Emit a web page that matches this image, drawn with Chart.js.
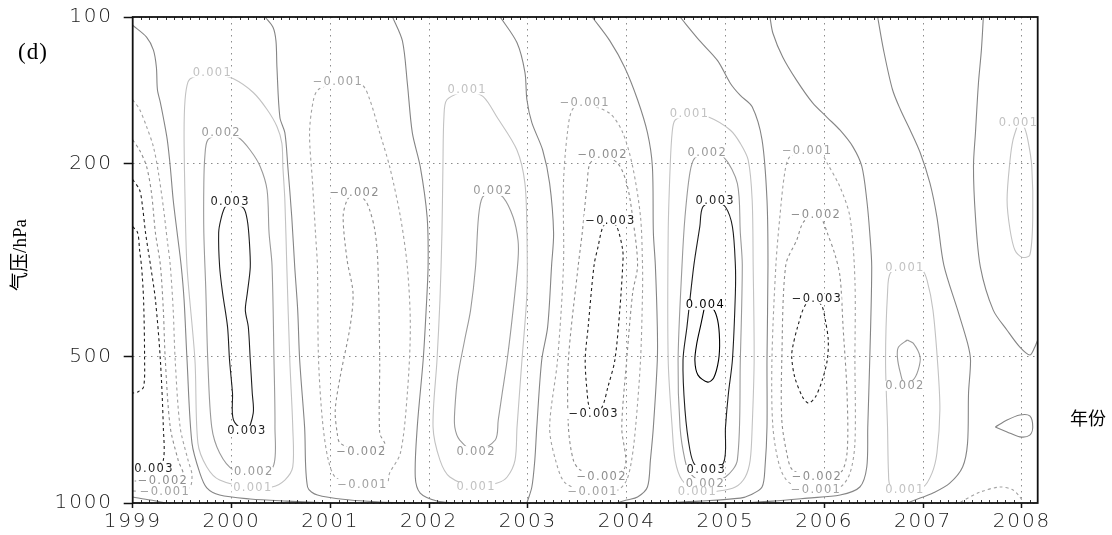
<!DOCTYPE html>
<html>
<head>
<meta charset="utf-8">
<script src="https://cdn.jsdelivr.net/npm/chart.js@4.4.1/dist/chart.umd.min.js"></script>
<style>
  html, body { margin: 0; padding: 0; background: #fff; }
  #wrap { position: relative; width: 1112px; height: 535px; }
  canvas { display: block; }
</style>
</head>
<body>
<div id="wrap"><canvas id="c" width="1112" height="535"></canvas></div>
<script>
// Axis ticks
const yearTicks = [1999, 2000, 2001, 2002, 2003, 2004, 2005, 2006, 2007, 2008];
const pressureTicks = [100, 200, 500, 1000];

// Contour paths, each point = [year, pressure hPa]
// zero line, 1999/2000
const c0_a = [[1999.00,104],[1999.14,110],[1999.21,117],[1999.24,127],[1999.25,141],[1999.28,150],[1999.31,161],[1999.35,179],[1999.38,203],[1999.41,238],[1999.45,278],[1999.49,324],[1999.52,382],[1999.55,508],[1999.60,753],[1999.68,868],[1999.75,931],[1999.88,963],[2000.19,981],[2000.56,991],[2001.00,1000]];
const c0_a2 = [[1999.00,972],[1999.18,986],[1999.33,1000]];
// negative cell, 1999
const cm1_a = [[1999.00,148],[1999.07,155],[1999.14,168],[1999.21,185],[1999.26,209],[1999.31,246],[1999.35,288],[1999.38,324],[1999.41,401],[1999.43,508],[1999.48,698],[1999.56,816],[1999.60,876],[1999.57,931],[1999.28,945],[1999.00,945]];
const cm2_a = [[1999.00,179],[1999.07,188],[1999.14,203],[1999.19,230],[1999.23,278],[1999.28,324],[1999.31,401],[1999.33,508],[1999.38,698],[1999.46,816],[1999.51,884],[1999.28,901],[1999.00,901]];
const cm3_a = [[1999.00,216],[1999.07,227],[1999.10,246],[1999.13,278],[1999.18,324],[1999.23,382],[1999.28,508],[1999.31,698],[1999.31,816],[1999.23,835],[1999.00,835]];
const cm4_a = [[1999.00,270],[1999.05,278],[1999.07,302],[1999.09,327],[1999.11,382],[1999.12,501],[1999.11,577],[1999.05,591],[1999.00,594]];
// positive cell, 2000
const cp1_a = [[1999.80,130],[1999.61,133],[1999.56,136],[1999.53,148],[1999.52,173],[1999.53,238],[1999.55,327],[1999.63,508],[1999.66,753],[1999.75,843],[1999.88,897],[2000.21,931],[2000.41,927],[2000.54,897],[2000.62,843],[2000.62,698],[2000.59,508],[2000.56,327],[2000.54,238],[2000.52,203],[2000.51,182],[2000.46,168],[2000.36,155],[2000.22,143],[2000.02,134],[1999.80,130]];
const cp2_a = [[1999.89,173],[1999.76,179],[1999.73,194],[1999.72,220],[1999.72,278],[1999.74,364],[1999.76,508],[1999.80,698],[1999.88,789],[2000.02,855],[2000.22,863],[2000.42,843],[2000.44,698],[2000.43,508],[2000.41,324],[2000.38,278],[2000.36,227],[2000.29,203],[2000.19,188],[2000.07,177],[1999.89,173]];
const cp3_a = [[1999.98,240],[1999.93,247],[1999.89,262],[1999.87,278],[1999.88,327],[1999.91,370],[1999.96,434],[1999.98,508],[2000.01,594],[2000.02,675],[2000.15,711],[2000.22,653],[2000.21,594],[2000.19,508],[2000.17,434],[2000.14,401],[2000.16,370],[2000.19,327],[2000.18,288],[2000.16,262],[2000.12,247],[1999.98,240]];
// zero line, 2000/2001
const c0_b = [[2000.34,100],[2000.42,105],[2000.45,112],[2000.46,127],[2000.49,161],[2000.54,173],[2000.57,203],[2000.61,258],[2000.64,327],[2000.67,401],[2000.69,508],[2000.74,698],[2000.77,927],[2000.87,963],[2001.20,986],[2001.50,995],[2001.81,1000]];
// negative cell, 2001
const cm1_b = [[2001.07,136],[2000.88,141],[2000.83,148],[2000.79,173],[2000.82,219],[2000.85,278],[2000.87,327],[2000.88,501],[2000.92,675],[2000.98,816],[2001.06,888],[2001.32,914],[2001.57,914],[2001.60,868],[2001.71,789],[2001.78,594],[2001.81,434],[2001.78,327],[2001.71,258],[2001.60,203],[2001.50,173],[2001.40,148],[2001.32,138],[2001.07,136]];
const cm2_b = [[2001.24,230],[2001.17,238],[2001.13,258],[2001.17,316],[2001.23,370],[2001.20,434],[2001.10,550],[2001.05,644],[2001.07,718],[2001.10,753],[2001.31,785],[2001.55,760],[2001.50,718],[2001.50,508],[2001.48,316],[2001.45,274],[2001.40,250],[2001.35,238],[2001.24,230]];
// zero line, 2001/2002
const c0_c = [[2001.63,100],[2001.73,112],[2001.78,137],[2001.83,173],[2001.91,203],[2001.98,258],[2001.99,324],[2001.97,401],[2001.94,508],[2001.88,698],[2001.86,884],[2001.91,954],[2002.08,991],[2002.26,1000]];
// positive cell, 2002
const cp1_c = [[2002.38,141],[2002.18,148],[2002.15,161],[2002.14,203],[2002.13,278],[2002.11,382],[2002.08,508],[2002.04,698],[2002.11,816],[2002.21,884],[2002.47,927],[2002.69,910],[2002.79,884],[2002.87,816],[2002.89,698],[2002.94,508],[2002.99,370],[2002.99,278],[2002.97,220],[2002.89,188],[2002.69,161],[2002.55,146],[2002.38,141]];
const cp2_c = [[2002.64,228],[2002.54,235],[2002.50,258],[2002.47,327],[2002.42,401],[2002.36,462],[2002.29,550],[2002.26,644],[2002.26,698],[2002.31,742],[2002.47,782],[2002.67,742],[2002.70,675],[2002.74,594],[2002.79,508],[2002.85,401],[2002.90,316],[2002.90,288],[2002.85,258],[2002.75,235],[2002.64,228]];
// zero line, 2002/2003
const c0_d = [[2002.72,100],[2002.89,113],[2002.97,130],[2002.99,148],[2003.04,165],[2003.15,188],[2003.22,220],[2003.26,278],[2003.24,324],[2003.20,434],[2003.14,508],[2003.09,698],[2003.07,816],[2003.04,927],[2002.99,1000]];
// negative cell, 2003/2004
const cm1_d = [[2003.57,150],[2003.45,155],[2003.40,173],[2003.36,220],[2003.36,324],[2003.30,508],[2003.22,698],[2003.28,816],[2003.38,910],[2003.65,949],[2003.91,940],[2004.00,897],[2004.05,816],[2004.09,698],[2004.14,508],[2004.16,370],[2004.16,324],[2004.14,258],[2004.06,203],[2003.96,173],[2003.83,158],[2003.57,150]];
const cm2_d = [[2003.75,192],[2003.63,200],[2003.60,220],[2003.55,278],[2003.51,324],[2003.41,508],[2003.41,698],[2003.46,816],[2003.53,855],[2003.74,880],[2003.98,847],[2003.95,698],[2004.00,508],[2004.06,370],[2004.11,324],[2004.06,258],[2004.00,220],[2003.91,200],[2003.75,192]];
const cm3_d = [[2003.83,262],[2003.76,270],[2003.71,297],[2003.67,324],[2003.61,434],[2003.58,508],[2003.60,594],[2003.62,635],[2003.66,656],[2003.75,635],[2003.81,577],[2003.88,508],[2003.93,401],[2003.96,324],[2003.96,302],[2003.90,270],[2003.83,262]];
// zero line, 2004/2005
const c0_e = [[2003.65,100],[2003.83,112],[2003.98,127],[2004.11,148],[2004.21,173],[2004.26,203],[2004.27,278],[2004.29,324],[2004.31,434],[2004.31,508],[2004.27,698],[2004.24,816],[2004.21,927],[2004.11,972],[2004.00,986],[2003.90,1000]];
// positive cell, 2005
const cp1_e = [[2004.63,158],[2004.49,163],[2004.46,173],[2004.44,203],[2004.42,278],[2004.42,508],[2004.46,698],[2004.49,816],[2004.56,897],[2004.71,949],[2004.93,945],[2005.10,927],[2005.20,884],[2005.25,816],[2005.27,698],[2005.29,508],[2005.28,324],[2005.27,238],[2005.23,197],[2005.15,182],[2005.05,171],[2004.84,161],[2004.63,158]];
const cp2_e = [[2004.81,190],[2004.69,195],[2004.64,209],[2004.59,258],[2004.56,324],[2004.52,508],[2004.54,698],[2004.59,816],[2004.64,868],[2004.79,910],[2005.00,884],[2005.12,816],[2005.15,508],[2005.17,324],[2005.15,278],[2005.12,220],[2004.98,194],[2004.81,190]];
const cp3_e = [[2004.89,238],[2004.77,246],[2004.74,270],[2004.68,324],[2004.61,434],[2004.57,508],[2004.59,644],[2004.64,778],[2004.69,835],[2004.80,855],[2004.98,827],[2005.00,698],[2005.03,594],[2005.07,508],[2005.10,370],[2005.10,324],[2005.07,270],[2005.00,246],[2004.89,238]];
const cp4_e = [[2004.79,393],[2004.75,430],[2004.71,469],[2004.69,508],[2004.72,545],[2004.82,564],[2004.88,553],[2004.93,508],[2004.94,462],[2004.92,420],[2004.87,397],[2004.79,393]];
// zero line, 2005/2006
const c0_f = [[2004.54,100],[2004.74,112],[2004.92,123],[2005.05,137],[2005.15,145],[2005.27,153],[2005.37,179],[2005.42,238],[2005.43,324],[2005.42,508],[2005.42,698],[2005.40,843],[2005.37,927],[2005.25,963],[2005.15,977],[2004.74,991],[2004.34,1000]];
// negative cell, 2006
const cm1_f = [[2005.82,188],[2005.65,194],[2005.60,209],[2005.55,258],[2005.51,324],[2005.47,508],[2005.48,698],[2005.55,843],[2005.65,910],[2005.91,936],[2006.16,927],[2006.26,868],[2006.31,753],[2006.31,508],[2006.31,348],[2006.26,258],[2006.16,224],[2006.03,200],[2005.96,190],[2005.82,188]];
const cm2_f = [[2005.91,255],[2005.79,264],[2005.72,288],[2005.61,324],[2005.57,508],[2005.57,675],[2005.62,789],[2005.68,855],[2005.92,884],[2006.16,868],[2006.23,789],[2006.23,594],[2006.19,434],[2006.16,343],[2006.11,309],[2006.03,278],[2005.98,262],[2005.91,255]];
const cm3_f = [[2005.92,380],[2005.81,391],[2005.73,434],[2005.68,478],[2005.67,501],[2005.70,550],[2005.78,605],[2005.84,623],[2005.91,605],[2005.98,558],[2006.03,508],[2006.04,462],[2006.01,420],[2005.98,395],[2005.92,380]];
// zero line, 2006/2007
const c0_g = [[2005.45,100],[2005.48,108],[2005.58,121],[2005.72,135],[2005.88,150],[2006.03,161],[2006.16,171],[2006.29,185],[2006.38,203],[2006.43,238],[2006.46,278],[2006.48,327],[2006.46,508],[2006.44,698],[2006.43,843],[2006.36,927],[2006.16,963],[2005.83,977],[2005.48,991],[2005.15,1000]];
// positive cell, 2007
const cp1_g = [[2006.81,327],[2006.67,336],[2006.64,370],[2006.62,508],[2006.64,698],[2006.65,868],[2006.67,923],[2006.81,936],[2007.00,927],[2007.09,868],[2007.14,789],[2007.17,644],[2007.15,525],[2007.10,401],[2007.04,348],[2006.99,332],[2006.81,327]];
const cp2_g = [[2006.84,462],[2006.75,478],[2006.74,501],[2006.77,540],[2006.81,568],[2006.90,558],[2006.95,533],[2006.97,501],[2006.90,469],[2006.84,462]];
// zero lines, 2007/2008
const c0_h = [[2006.54,100],[2006.60,117],[2006.69,141],[2006.77,155],[2006.87,171],[2006.97,190],[2007.07,220],[2007.14,258],[2007.21,324],[2007.35,401],[2007.45,469],[2007.48,508],[2007.46,594],[2007.45,753],[2007.40,843],[2007.27,910],[2007.10,954],[2006.97,977],[2006.84,1000]];
const c0_i = [[2007.61,100],[2007.59,117],[2007.56,137],[2007.53,173],[2007.51,203],[2007.53,258],[2007.58,327],[2007.71,401],[2007.85,441],[2007.98,478],[2008.08,496],[2008.13,478],[2008.16,462]];
const cp1_i = [[2007.96,166],[2007.91,179],[2007.88,197],[2007.85,238],[2007.88,274],[2007.93,302],[2008.00,312],[2008.08,309],[2008.11,258],[2008.10,203],[2008.06,179],[2008.02,168],[2007.96,166]];
const c0_j = [[2007.73,698],[2007.85,675],[2007.98,659],[2008.08,662],[2008.11,698],[2008.08,725],[2007.98,731],[2007.85,714],[2007.73,698]];
const cm1_j = [[2007.38,995],[2007.58,949],[2007.78,927],[2007.91,940],[2007.98,972],[2008.01,995]];

const contourPaths = [c0_a, c0_a2, cm1_a, cm2_a, cm3_a, cm4_a, cp1_a, cp2_a, cp3_a, c0_b, cm1_b, cm2_b, c0_c, cp1_c, cp2_c, c0_d, cm1_d, cm2_d, cm3_d, c0_e, cp1_e, cp2_e, cp3_e, cp4_e, c0_f, cm1_f, cm2_f, cm3_f, c0_g, cp1_g, cp2_g, c0_h, c0_i, cp1_i, c0_j, cm1_j];
const contourLevels = [0, 0, -0.001, -0.002, -0.003, -0.004, 0.001, 0.002, 0.003, 0, -0.001, -0.002, 0, 0.001, 0.002, 0, -0.001, -0.002, -0.003, 0, 0.001, 0.002, 0.003, 0.004, 0, -0.001, -0.002, -0.003, 0, 0.001, 0.002, 0, 0, 0.001, 0, -0.001];

// Contour labels
const labelText = ['0.001','0.002','0.003','0.003','0.002','0.001','0.003','\u22120.002','\u22120.001',
  '\u22120.001','\u22120.002','\u22120.002','\u22120.001',
  '0.001','0.002','0.002','0.001',
  '\u22120.001','\u22120.002','\u22120.003','\u22120.003','\u22120.002','\u22120.001',
  '0.001','0.002','0.003','0.004','0.003','0.002','0.001',
  '\u22120.001','\u22120.002','\u22120.003','\u22120.002','\u22120.001',
  '0.001','0.002','0.001','0.001'];
const labelYear = [1999.80,1999.89,1999.98,2000.15,2000.22,2000.21,1999.21,1999.30,1999.32,
  2001.07,2001.24,2001.31,2001.32,
  2002.38,2002.64,2002.47,2002.47,
  2003.57,2003.75,2003.83,2003.66,2003.74,2003.65,
  2004.63,2004.81,2004.89,2004.79,2004.80,2004.79,2004.71,
  2005.82,2005.91,2005.92,2005.92,2005.91,
  2006.81,2006.81,2006.81,2007.96];
const labelHPa = [130,173,240,711,863,931,851,901,949,
  136,230,785,914,
  141,228,782,927,
  150,192,262,656,880,949,
  158,190,238,391,855,910,949,
  188,255,380,884,936,
  327,574,936,165];
const labelLevel = [0.001,0.002,0.003,0.003,0.002,0.001,-0.003,-0.002,-0.001,
  -0.001,-0.002,-0.002,-0.001,
  0.001,0.002,0.002,0.001,
  -0.001,-0.002,-0.003,-0.003,-0.002,-0.001,
  0.001,0.002,0.003,0.004,0.003,0.002,0.001,
  -0.001,-0.002,-0.003,-0.002,-0.001,
  0.001,0.002,0.001,0.001];

// Line style per contour level
function levelColor(v) {
  const a = Math.round(Math.abs(v) * 1000);
  if (v === 0) return '#858585';
  if (v > 0) return ['#858585', '#c2c2c2', '#9a9a9a', '#1e1e1e', '#000000'][a];
  return ['#858585', '#a2a2a2', '#8e8e8e', '#1e1e1e', '#1e1e1e'][a];
}
function levelDash(v) { return v < 0 ? [3, 3] : []; }

const datasets = contourPaths.map((path, i) => ({
  data: path.map(p => ({ x: p[0], y: p[1] })),
  showLine: true,
  borderColor: levelColor(contourLevels[i]),
  borderWidth: 1.1,
  borderDash: levelDash(contourLevels[i]),
  pointRadius: 0,
  pointHoverRadius: 0,
  tension: 0.3,
  fill: false
}));

const PLOT = { left: 132.7, top: 17, right: 1037.7, bottom: 503 };

const tickFontSpacing = {
  id: 'tickFontSpacing',
  beforeDraw(chart) { chart.ctx.letterSpacing = '1.8px'; }
};

const contourLabels = {
  id: 'contourLabels',
  afterDatasetsDraw(chart) {
    const ctx = chart.ctx, xs = chart.scales.x, ys = chart.scales.y;
    const a = chart.chartArea;
    ctx.save();
    ctx.beginPath();
    ctx.rect(a.left, a.top, a.right - a.left, a.bottom - a.top);
    ctx.clip();
    ctx.letterSpacing = '1.3px';
    ctx.font = '11.5px "DejaVu Sans"';
    ctx.textAlign = 'center';
    ctx.textBaseline = 'middle';
    for (let i = 0; i < labelText.length; i++) {
      const px = xs.getPixelForValue(labelYear[i]);
      const py = ys.getPixelForValue(labelHPa[i]);
      const w = ctx.measureText(labelText[i]).width;
      ctx.fillStyle = '#ffffff';
      ctx.fillRect(px - w / 2 - 1, py - 5, w + 1, 10);
      ctx.fillStyle = levelColor(labelLevel[i]);
      ctx.fillText(labelText[i], px + 0.6, py + 0.5);
    }
    ctx.restore();
  }
};

const frameAndTitles = {
  id: 'frameAndTitles',
  afterDraw(chart) {
    const ctx = chart.ctx, a = chart.chartArea, xs = chart.scales.x;
    ctx.save();
    ctx.letterSpacing = '0px';
    // monthly minor ticks along top and bottom edges
    ctx.strokeStyle = '#333';
    ctx.lineWidth = 1;
    ctx.beginPath();
    for (let k = 1; k < 9 * 12 + 2; k++) {
      if (k % 12 === 0) continue;
      const x = Math.round(xs.getPixelForValue(1999 + k / 12)) + 0.5;
      ctx.moveTo(x, a.bottom); ctx.lineTo(x, a.bottom - 3);
      ctx.moveTo(x, a.top); ctx.lineTo(x, a.top + 3);
    }
    ctx.stroke();
    // frame
    ctx.strokeStyle = '#111';
    ctx.lineWidth = 1.8;
    ctx.strokeRect(a.left, a.top, a.right - a.left, a.bottom - a.top);
    // panel tag
    ctx.fillStyle = '#000';
    ctx.font = '23px "Liberation Serif", "DejaVu Serif", serif';
    ctx.letterSpacing = '1px';
    ctx.textAlign = 'center';
    ctx.textBaseline = 'middle';
    ctx.fillText('(d)', 33, 53);
    ctx.letterSpacing = '0px';
    // axis titles
    ctx.font = '19px "Liberation Serif", "Noto Sans CJK SC", serif';
    ctx.save();
    ctx.translate(21, 255);
    ctx.rotate(-Math.PI / 2);
    ctx.fillText('气压/hPa', 0, 0);
    ctx.restore();
    ctx.font = '18px "Noto Sans CJK SC", sans-serif';
    ctx.fillText('年份', 1088, 418);
    ctx.restore();
  }
};

new Chart(document.getElementById('c'), {
  type: 'scatter',
  data: { datasets },
  options: {
    responsive: false,
    devicePixelRatio: 1,
    animation: false,
    events: [],
    layout: { padding: { left: 0, top: PLOT.top, right: 1112 - PLOT.right, bottom: 0 } },
    plugins: { legend: { display: false }, tooltip: { enabled: false } },
    scales: {
      x: {
        type: 'linear',
        min: 1999,
        max: 2008.16,
        afterFit(s) { s.height = 535 - PLOT.bottom; s.paddingLeft = 0; s.paddingRight = 0; },
        afterBuildTicks(s) { s.ticks = yearTicks.map(v => ({ value: v })); },
        grid: { color: '#8c8c8c', lineWidth: 1, drawTicks: true, tickLength: 5, tickColor: '#111', tickWidth: 1.5, tickBorderDash: [] },
        border: { display: false, dash: [1.5, 4.5] },
        ticks: {
          autoSkip: false, maxRotation: 0, padding: 2, color: '#1a1a1a',
          font: { family: '"DejaVu Sans"', size: 20, weight: '200' },
          callback: v => String(v)
        }
      },
      y: {
        type: 'logarithmic',
        reverse: true,
        min: 100,
        max: 1000,
        afterFit(s) { s.width = PLOT.left; s.paddingTop = 0; s.paddingBottom = 0; },
        afterBuildTicks(s) { s.ticks = pressureTicks.map(v => ({ value: v })); },
        grid: { color: '#8c8c8c', lineWidth: 1, drawTicks: true, tickLength: 9, tickColor: '#111', tickWidth: 1.5, tickBorderDash: [] },
        border: { display: false, dash: [1.5, 4.5] },
        ticks: {
          autoSkip: false, padding: 11, color: '#1a1a1a',
          font: { family: '"DejaVu Sans"', size: 20, weight: '200' },
          callback: v => String(v)
        }
      }
    }
  },
  plugins: [tickFontSpacing, contourLabels, frameAndTitles]
});
</script>
</body>
</html>
